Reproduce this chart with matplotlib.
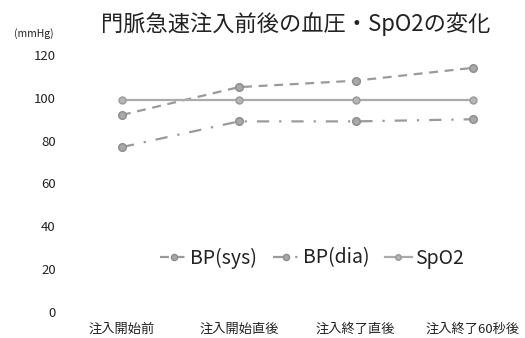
import matplotlib
matplotlib.use('Agg')
import matplotlib.pyplot as plt

plt.rcParams['font.family'] = ['Noto Sans CJK JP', 'DejaVu Sans']

# data
categories = ['注入開始前', '注入開始直後', '注入終了直後', '注入終了60秒後']
bp_sys = [92, 105, 108, 114]
bp_dia = [77, 89, 89, 90]
spo2 = [99, 99, 99, 99]
y_ticks = [0, 20, 40, 60, 80, 100, 120]

fig = plt.figure(figsize=(5.25, 3.38), dpi=100)
ax = fig.add_axes([60 / 525, 26 / 338, 450 / 525, 257 / 338])

x = list(range(len(categories)))
ax.plot(x, bp_sys, color='#9a9a9a', lw=1.6, dashes=(4, 3),
        marker='o', ms=5.5, mfc='#a8a8a8', mec='#8c8c8c', label='BP(sys)')
ax.plot(x, bp_dia, color='#9a9a9a', lw=1.6, dashes=(5.5, 4.5, 1, 4.5),
        marker='o', ms=5.5, mfc='#a8a8a8', mec='#8c8c8c', label='BP(dia)')
ax.plot(x, spo2, color='#ababab', lw=1.6,
        marker='o', ms=5, mfc='#b5b5b5', mec='#999999', label='SpO2')

ax.set_xlim(-0.53, 3.32)
ax.set_ylim(0, 120)
ax.set_yticks(y_ticks)
ax.set_xticks(x)
ax.set_xticklabels(categories, fontsize=9.5, color='#222222')
ax.tick_params(axis='y', length=0, pad=3, labelsize=9.5, labelcolor='#222222')
ax.tick_params(axis='x', length=0, pad=8)
for s in ax.spines.values():
    s.set_visible(False)

leg = ax.legend(loc='center', bbox_to_anchor=(0.56, 0.21), ncol=3, frameon=False,
                fontsize=14, handlelength=1.4, handletextpad=0.15,
                columnspacing=0.8, labelcolor='#222222', markerscale=0.8)

fig.text(0.564, 0.93, '門脈急速注入前後の血圧・SpO2の変化', ha='center', va='center',
         fontsize=16, color='#222222')
fig.text(0.065, 0.9, '(mmHg)', ha='center', va='center', fontsize=7.5, color='#222222')

fig.savefig('out.png', dpi=100)
